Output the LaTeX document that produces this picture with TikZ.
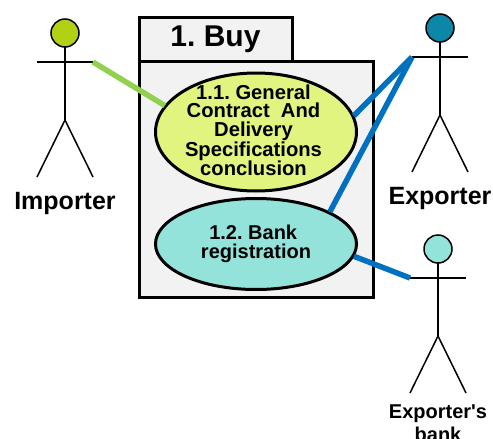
\documentclass[tikz,border=0pt]{standalone}
\usepackage{fontspec}
\setmainfont{Liberation Sans}
\usetikzlibrary{shapes.geometric}
\frenchspacing
\definecolor{packfill}{HTML}{F2F2F2}
\definecolor{caseyellow}{HTML}{E2F480}
\definecolor{casecyan}{HTML}{94E3DB}
\definecolor{headlime}{HTML}{B2D014}
\definecolor{headteal}{HTML}{0C87A8}
\definecolor{linkgreen}{HTML}{92D050}
\definecolor{linkblue}{HTML}{0070C0}
\tikzset{
  pack/.style={draw,line width=3,fill=packfill,inner sep=0,outer sep=0},
  usecase/.style={draw,ellipse,line width=3,inner sep=0,outer sep=0,align=center,
    minimum width=201,minimum height=118,font=\bfseries\fontsize{20}{18.5}\selectfont},
  head/.style={draw,circle,line width=1.5,minimum size=28,inner sep=0,outer sep=0},
  actorname/.style={inner sep=0,align=center,anchor=base,font=\bfseries\fontsize{25}{28}\selectfont},
  link/.style={line width=5.5,shorten >=1}
}
\begin{document}
\begin{tikzpicture}[x=1pt,y=-1pt]
      \useasboundingbox (0,0) rectangle (493,439);
      \draw
        (215.5,39) node[pack,minimum width=153,minimum height=44,font=\bfseries\fontsize{30}{34}\selectfont] (buytab){1. Buy}
        (256,179) node[pack,minimum width=234,minimum height=236] (buybody){};
      \draw
        (256,132) node[usecase,fill=caseyellow] (general){};
      \node[font=\bfseries\fontsize{20.2}{18.3}\selectfont,align=center,inner sep=0] (generaltext) at (253.5,130.5)
        {1.1. General\\Contract\ \ And\\Delivery\\Specifications\\conclusion};
      \draw
        (256,244) node[usecase,fill=casecyan,minimum height=91,font=\bfseries\fontsize{20}{19}\selectfont] (bank){1.2. Bank\ \mbox{}\\registration};
      % the three actors
      \foreach \name/\xpos/\ypos/\headcol in {importer/65/33/headlime,exporter/440/28/headteal,exbank/438/249/casecyan}{
        \node[head,fill=\headcol] (\name head) at (\xpos,\ypos) {};
        \coordinate (\name left) at (\xpos-28,\ypos+29);
        \coordinate (\name right) at (\xpos+28,\ypos+29);
        \coordinate (\name hip) at (\xpos,\ypos+87);
        \coordinate (\name lfoot) at (\xpos-28,\ypos+144);
        \coordinate (\name rfoot) at (\xpos+28,\ypos+144);
        \draw[line width=1.5] (\name head) -- (\name hip);
        \draw[line width=1.5] (\name left) -- (\name right);
        \draw[line width=1.5] (\name lfoot) -- (\name hip) -- (\name rfoot);
      }
      \node[actorname] (importername) at (65,209.5) {Importer};
      \node[actorname] (exportername) at (440,204.5) {Exporter};
      \node[inner sep=0,align=center,anchor=base,font=\bfseries\fontsize{20}{23.5}\selectfont] (exbankname) at (438,441.5) {Exporter\textquotesingle s\\bank};
      \begin{scope}[link]
        \draw[linkgreen] (importerright) -- (general.164);
        \draw[linkblue] (exporterleft) -- (general.9);
        \draw[linkblue] (exporterleft) -- (bank.23);
        \draw[linkblue] (exbankleft) -- (bank.-7);
      \end{scope}
    \end{tikzpicture}
\end{document}
